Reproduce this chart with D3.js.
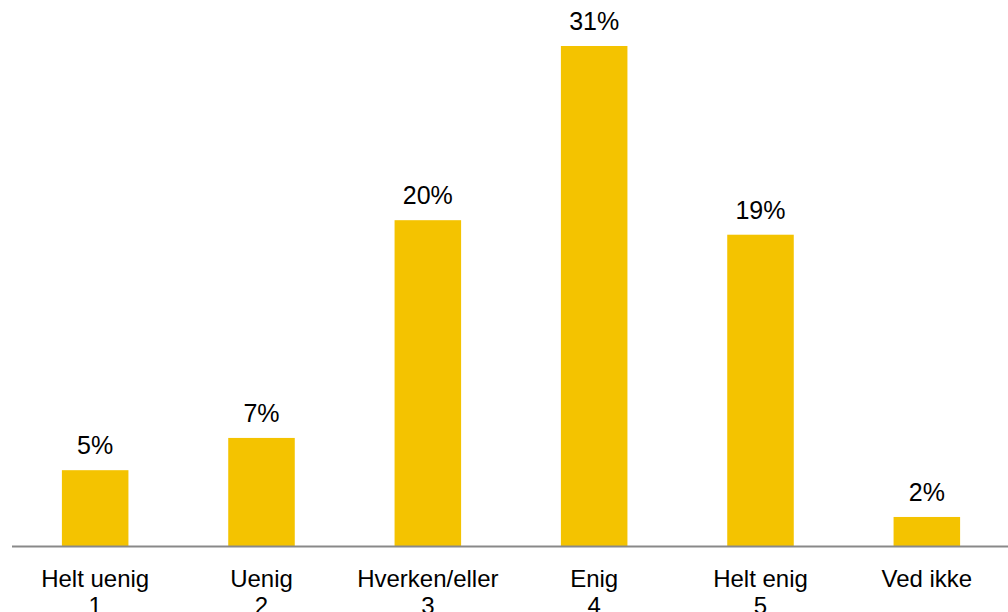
<!DOCTYPE html>
<html>
<head>
<meta charset="utf-8">
<script src="https://cdn.jsdelivr.net/npm/d3@7"></script>
<style>
  body { margin: 0; background: #fff; }
  svg text { font-family: "Liberation Sans", Arial, sans-serif; fill: #000; }
</style>
</head>
<body>
<div id="chart"></div>
<script>
// data
var categories = ["Helt uenig", "Uenig", "Hverken/eller", "Enig", "Helt enig", "Ved ikke"];
var scaleLabels = ["1", "2", "3", "4", "5", ""];
var values = [4.7, 6.7, 20.2, 31, 19.3, 1.8];

var width = 1008,
  height = 612,
  baseline = 546;

var svg = d3
  .select("#chart")
  .append("svg")
  .attr("width", width)
  .attr("height", height);

var x = d3.scaleBand().domain(categories).range([12, 1010]).paddingInner(0.6).paddingOuter(0.3);

// 31% reaches y=46
var y = d3.scaleLinear().domain([0, 31]).range([baseline, 46]);

var data = categories.map(function (c, i) {
  return { cat: c, sub: scaleLabels[i], value: values[i] };
});

svg
  .selectAll(".bar")
  .data(data)
  .enter()
  .append("rect")
  .attr("class", "bar")
  .attr("x", function (d) { return x(d.cat); })
  .attr("width", x.bandwidth())
  .attr("y", function (d) { return y(d.value); })
  .attr("height", function (d) { return baseline - y(d.value); })
  .attr("fill", "#f4c300");

// value labels
svg
  .selectAll(".val")
  .data(data)
  .enter()
  .append("text")
  .attr("class", "val")
  .attr("x", function (d) { return x(d.cat) + x.bandwidth() / 2; })
  .attr("y", function (d) { return y(d.value) - 16; })
  .attr("text-anchor", "middle")
  .style("font-size", "25px")
  .text(function (d) { return Math.round(d.value) + "%"; });

// x axis line
svg
  .append("line")
  .attr("x1", 12)
  .attr("x2", width)
  .attr("y1", baseline + 0.5)
  .attr("y2", baseline + 0.5)
  .attr("stroke", "#898989")
  .attr("stroke-width", 2);

// category labels, two lines
var lab = svg
  .selectAll(".cat")
  .data(data)
  .enter()
  .append("text")
  .attr("class", "cat")
  .attr("text-anchor", "middle")
  .style("font-size", "24px");

lab
  .append("tspan")
  .attr("x", function (d) { return x(d.cat) + x.bandwidth() / 2; })
  .attr("y", 586.5)
  .text(function (d) { return d.cat; });

lab
  .append("tspan")
  .attr("x", function (d) { return x(d.cat) + x.bandwidth() / 2; })
  .attr("y", 613.5)
  .text(function (d) { return d.sub; });
</script>
</body>
</html>
